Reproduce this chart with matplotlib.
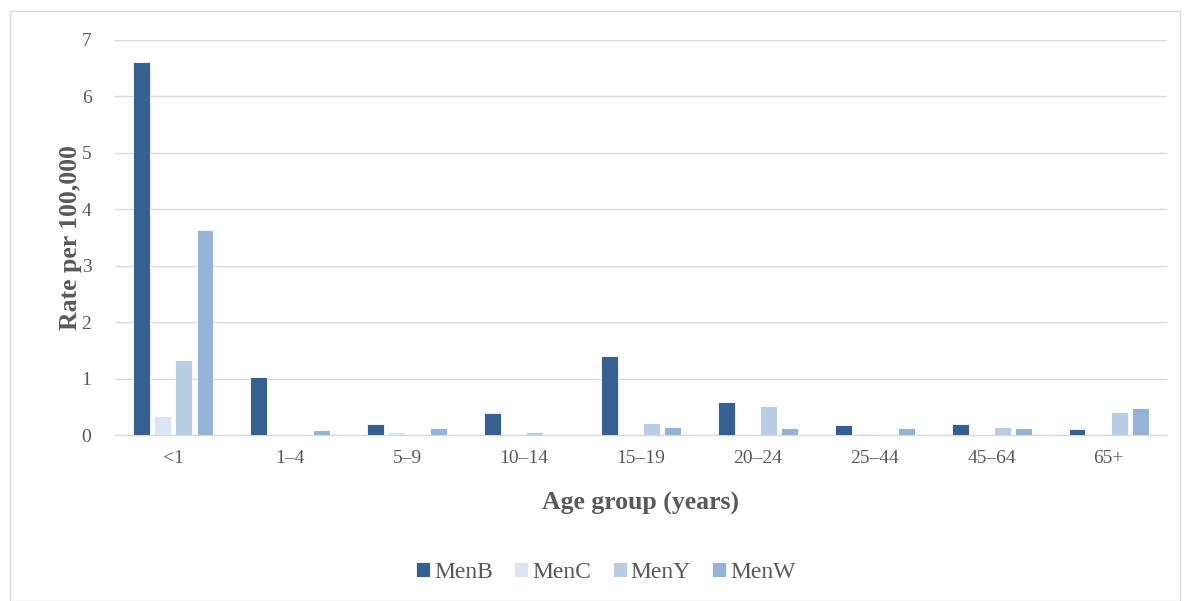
import numpy as np
import matplotlib.pyplot as plt
from matplotlib.patches import Rectangle

# age groups and rates per 100,000
age_groups = ['<1', '1–4', '5–9', '10–14', '15–19', '20–24', '25–44', '45–64', '65+']
menb = [6.61, 1.03, 0.19, 0.39, 1.40, 0.58, 0.17, 0.20, 0.10]
menc = [0.34, 0.0, 0.06, 0.0, 0.0, 0.0, 0.04, 0.01, 0.0]
meny = [1.33, 0.0, 0.0, 0.06, 0.21, 0.51, 0.0, 0.15, 0.41]
menw = [3.63, 0.08, 0.12, 0.0, 0.14, 0.12, 0.13, 0.12, 0.48]

series = [('MenB', menb, '#376092'), ('MenC', menc, '#DCE6F2'),
          ('MenY', meny, '#B9CDE5'), ('MenW', menw, '#95B3D7')]

plt.rcParams['font.family'] = ['Liberation Serif', 'DejaVu Serif']

fig = plt.figure(figsize=(11.87, 6.01), dpi=100)
ax = fig.add_axes([115 / 1187, 1 - 435 / 601, (1167 - 115) / 1187, (435 - 40) / 601])

x = np.arange(len(age_groups))
width = 0.145
step = 0.18
for i, (name, vals, col) in enumerate(series):
    ax.bar(x + (i - 1.5) * step, vals, width, color=col, label=name,
           edgecolor='white', linewidth=0.6, zorder=3)

ax.set_xlim(-0.5, len(age_groups) - 0.5)
ax.set_ylim(0, 7)
ax.set_yticks(range(0, 8))
ax.set_xticks(x)
ax.set_xticklabels(age_groups)
ax.grid(axis='y', color='#D9D9D9', linewidth=1, zorder=0)
for s in ['top', 'right', 'left']:
    ax.spines[s].set_visible(False)
ax.spines['bottom'].set_color('#D9D9D9')
ax.spines['bottom'].set_linewidth(1)
ax.tick_params(axis='both', length=0, labelsize=14, labelcolor='#595959')
ax.tick_params(axis='x', pad=11)
ax.tick_params(axis='y', pad=17)

ax.set_ylabel('Rate per 100,000', fontsize=18.5, fontweight='bold', color='#595959', labelpad=0)
ax.set_xlabel('Age group (years)', fontsize=18.5, fontweight='bold', color='#595959', labelpad=18)

fig.legend(loc='center', bbox_to_anchor=(606 / 1187, 1 - 572 / 601), ncol=4, frameon=False,
           fontsize=17, labelcolor='#595959', handlelength=0.6, handleheight=0.6,
           handletextpad=0.17, columnspacing=0.9)

fig.patches.append(Rectangle((10 / 1187, 0), 1170 / 1187, 1 - 11 / 601,
                             transform=fig.transFigure, fill=False,
                             edgecolor='#D9D9D9', linewidth=1))

fig.savefig('out.png', dpi=100)
